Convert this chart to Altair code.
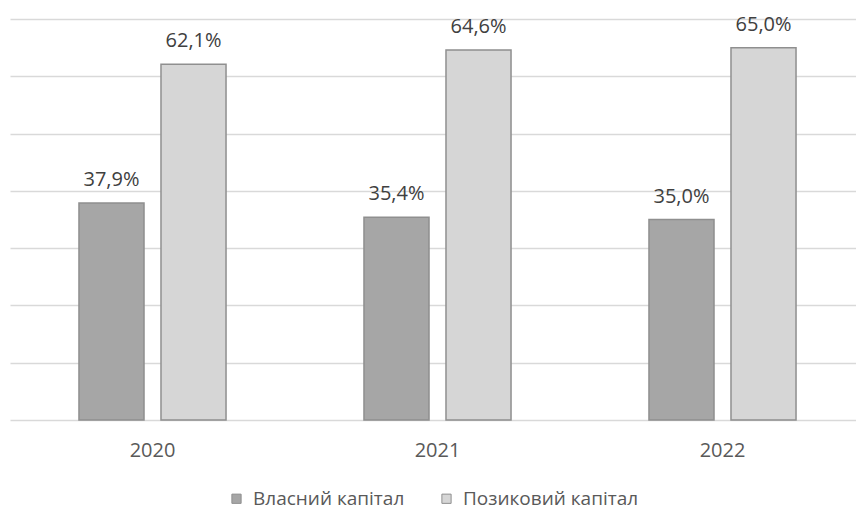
import altair as alt
import pandas as pd

# Capital structure by year, percent of total
years = ["2020", "2021", "2022"]
series = ["Власний капітал", "Позиковий капітал"]
own_capital = [37.9, 35.4, 35.0]
borrowed_capital = [62.1, 64.6, 65.0]

rows = []
for i, year in enumerate(years):
    for name, values in zip(series, [own_capital, borrowed_capital]):
        v = values[i]
        rows.append({
            "year": year,
            "series": name,
            "value": v,
            "label": f"{v:.1f}%".replace(".", ","),
        })
df = pd.DataFrame(rows)

FONT = "Open Sans"
fills = ["#a6a6a6", "#d6d6d6"]

x = alt.X(
    "year:N",
    title=None,
    sort=years,
    scale=alt.Scale(range=[0, 855], paddingInner=0.484, paddingOuter=0.242),
    axis=alt.Axis(
        labelAngle=0,
        ticks=False,
        domain=False,
        labelPadding=20,
        labelFontSize=20,
        labelFont=FONT,
        labelColor="#595959",
    ),
)
x_off = alt.XOffset(
    "series:N",
    sort=series,
    scale=alt.Scale(paddingInner=0.207, paddingOuter=0),
)
y = alt.Y(
    "value:Q",
    title=None,
    scale=alt.Scale(domain=[0, 70], nice=False),
    axis=alt.Axis(
        values=[0, 10, 20, 30, 40, 50, 60, 70],
        labels=False,
        ticks=False,
        domain=False,
        grid=True,
        gridColor="#d9d9d9",
        gridWidth=1.5,
    ),
)

bars = alt.Chart(df).mark_bar(stroke="#8f8f8f", strokeWidth=1.5).encode(
    x=x,
    xOffset=x_off,
    y=y,
    fill=alt.Fill(
        "series:N",
        sort=series,
        scale=alt.Scale(domain=series, range=fills),
        legend=alt.Legend(
            title=None,
            orient="none",
            direction="horizontal",
            legendX=217,
            legendY=470,
            padding=0,
            symbolType="square",
            symbolSize=85,
            symbolStrokeColor="#8f8f8f",
            symbolStrokeWidth=1,
            labelFont=FONT,
            labelFontSize=19,
            labelColor="#595959",
            labelOffset=7,
            labelLimit=400,
            columnPadding=32,
        ),
    ),
)

labels = alt.Chart(df).mark_text(
    baseline="alphabetic",
    dy=-17,
    font=FONT,
    fontSize=20,
    color="#404040",
).encode(
    x=x,
    xOffset=x_off,
    y=y,
    text="label:N",
)

chart = (
    alt.layer(bars, labels)
    .properties(
        width=846,
        height=401,
        autosize=alt.AutoSizeParams(type="none"),
        padding={"left": 10, "top": 19, "right": 0, "bottom": 90},
        background="white",
    )
    .configure_view(stroke=None)
)

chart.save("out.html", embed_options={"renderer": "svg", "actions": False})
